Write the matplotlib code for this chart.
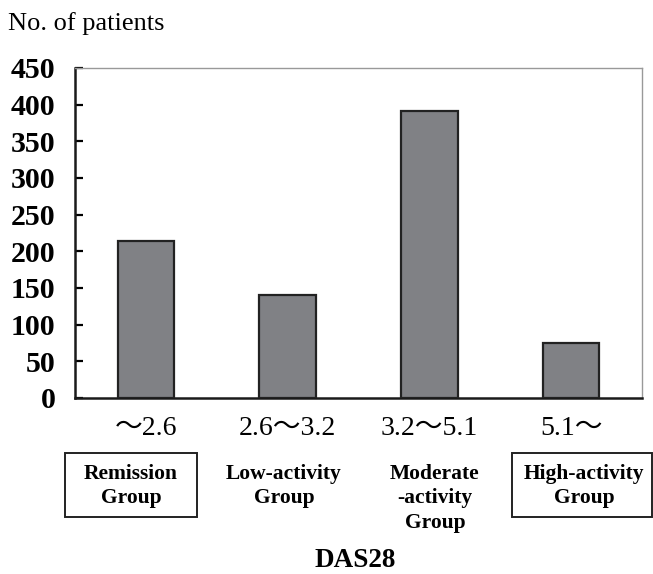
import matplotlib
matplotlib.use("Agg")
from matplotlib import pyplot as plt
from matplotlib.patches import Rectangle

# DAS28 groups, patient counts
ranges = ["\u301c2.6", "2.6\u301c3.2", "3.2\u301c5.1", "5.1\u301c"]
groups = ["Remission\nGroup", "Low-activity\nGroup", "Moderate\n-activity\nGroup", "High-activity\nGroup"]
patients = [214, 140, 391, 75]
y_ticks = [0, 50, 100, 150, 200, 250, 300, 350, 400, 450]

W, H = 653, 574
plt.rcParams['font.family'] = ['Liberation Serif', 'Noto Sans CJK JP']


def fx(px):
    return px / W


def fy(py):
    return 1 - py / H


fig = plt.figure(figsize=(W / 100, H / 100), dpi=100)
ax = fig.add_axes([fx(75), fy(398), fx(642) - fx(75), fy(68) - fy(398)])

x = list(range(len(patients)))
ax.bar(x, patients, width=0.4, color="#808185", edgecolor="#222222", linewidth=1.6, zorder=3)
ax.set_xlim(-0.5, len(patients) - 0.5)
ax.set_ylim(0, 450)
ax.set_yticks(y_ticks)
ax.set_yticklabels([str(t) for t in y_ticks], fontsize=21.5, fontweight='bold')
ax.tick_params(axis='y', direction='in', length=5.5, width=1.6, pad=14)
ax.set_xticks(x)
ax.set_xticklabels(ranges, fontsize=20)
ax.tick_params(axis='x', length=0, pad=13)

for side in ['left', 'bottom']:
    ax.spines[side].set_linewidth(1.8)
    ax.spines[side].set_color('#1a1a1a')
for side in ['top', 'right']:
    ax.spines[side].set_linewidth(1.0)
    ax.spines[side].set_color('#999999')

fig.text(fx(8), fy(30), "No. of patients", fontsize=19, va='baseline', ha='left')

# group names under the ranges
group_x = [131, 284, 435, 584]
for gx, g in zip(group_x, groups):
    fig.text(fx(gx), fy(464), g, fontsize=15.5, fontweight='bold', ha='center', va='top',
             linespacing=1.3)

# boxes round the end groups
for left, right in [(65, 197), (512, 652)]:
    fig.add_artist(Rectangle((fx(left), fy(517)), fx(right) - fx(left), fy(453) - fy(517),
                             transform=fig.transFigure, fill=False, edgecolor='#222222', linewidth=1.4))

fig.text(fx(355), fy(573), "DAS28", fontsize=19.5, fontweight='bold', ha='center', va='bottom')

plt.savefig("out.png", dpi=100)
